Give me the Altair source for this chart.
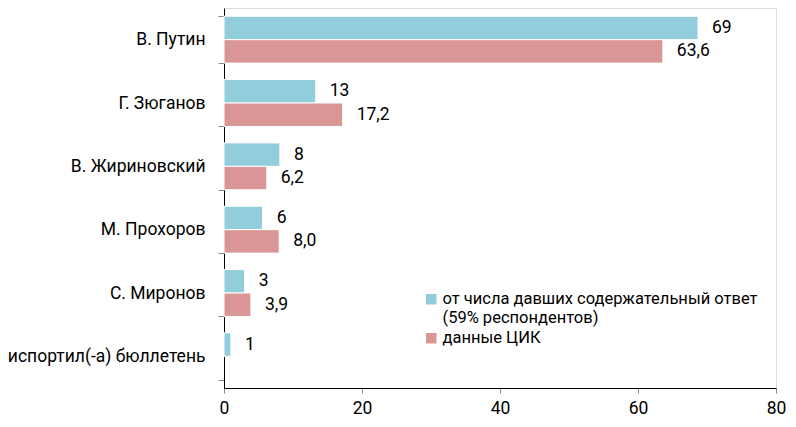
import altair as alt
import pandas as pd

categories = ["В. Путин", "Г. Зюганов", "В. Жириновский", "М. Прохоров",
              "С. Миронов", "испортил(-а) бюллетень"]
series_names = ["от числа давших содержательный ответ|(59% респондентов)", "данные ЦИК"]
series_colors = ["#92CDDC", "#D99694"]

survey_values = [68.7, 13.3, 8.1, 5.6, 3.0, 1.0]
survey_labels = ["69", "13", "8", "6", "3", "1"]
cik_values = [63.6, 17.2, 6.2, 8.0, 3.9, None]
cik_labels = ["63,6", "17,2", "6,2", "8,0", "3,9", ""]

x_ticks = [0, 20, 40, 60, 80]

rows = []
for i, c in enumerate(categories):
    rows.append({"category": c, "series": series_names[0],
                 "value": survey_values[i], "label": survey_labels[i]})
    if cik_values[i] is not None:
        rows.append({"category": c, "series": series_names[1],
                     "value": cik_values[i], "label": cik_labels[i]})
df = pd.DataFrame(rows)

FONT = "Roboto"
FS = 17.5

base = alt.Chart(df).encode(
    y=alt.Y("category:N", sort=categories, title=None,
            scale=alt.Scale(paddingInner=0.26, paddingOuter=0.13),
            axis=alt.Axis(tickBand="extent", tickSize=6, tickColor="#888888",
                          domainColor="#000000", labelPadding=13,
                          labelFont=FONT, labelFontSize=FS, labelColor="#000000",
                          labelLimit=400)),
    yOffset=alt.YOffset("series:N", sort=series_names,
                        scale=alt.Scale(domain=series_names, paddingInner=0)),
)

bars = base.mark_bar(stroke="white", strokeWidth=1).encode(
    x=alt.X("value:Q", title=None,
            scale=alt.Scale(domain=[0, 80]),
            axis=alt.Axis(values=x_ticks, grid=False, tickSize=5,
                          tickColor="#888888", domainColor="#000000",
                          labelPadding=6, labelFont=FONT, labelFontSize=FS,
                          labelColor="#000000", labelFlush=False)),
    color=alt.Color("series:N", sort=series_names,
                    scale=alt.Scale(domain=series_names, range=series_colors),
                    legend=alt.Legend(title=None, orient="none",
                                      legendX=199, legendY=283,
                                      symbolType="square", symbolSize=110,
                                      symbolStrokeWidth=0,
                                      labelFont=FONT, labelFontSize=16.5,
                                      labelColor="#000000", labelLimit=500,
                                      labelExpr="split(datum.label, '|')",
                                      rowPadding=3, labelOffset=3)),
)

texts = base.mark_text(align="left", baseline="middle", dx=14,
                       font=FONT, fontSize=FS, color="#000000").encode(
    x=alt.X("value:Q"),
    text="label:N",
)

chart = (bars + texts).properties(
    width=552, height=380,
    autosize=alt.AutoSizeParams(type="none"),
    padding={"left": 216, "top": 0, "right": 12, "bottom": 29},
).configure_view(stroke=None).configure(background="white")

chart.save("out.html", embed_options={"renderer": "svg", "actions": False})
